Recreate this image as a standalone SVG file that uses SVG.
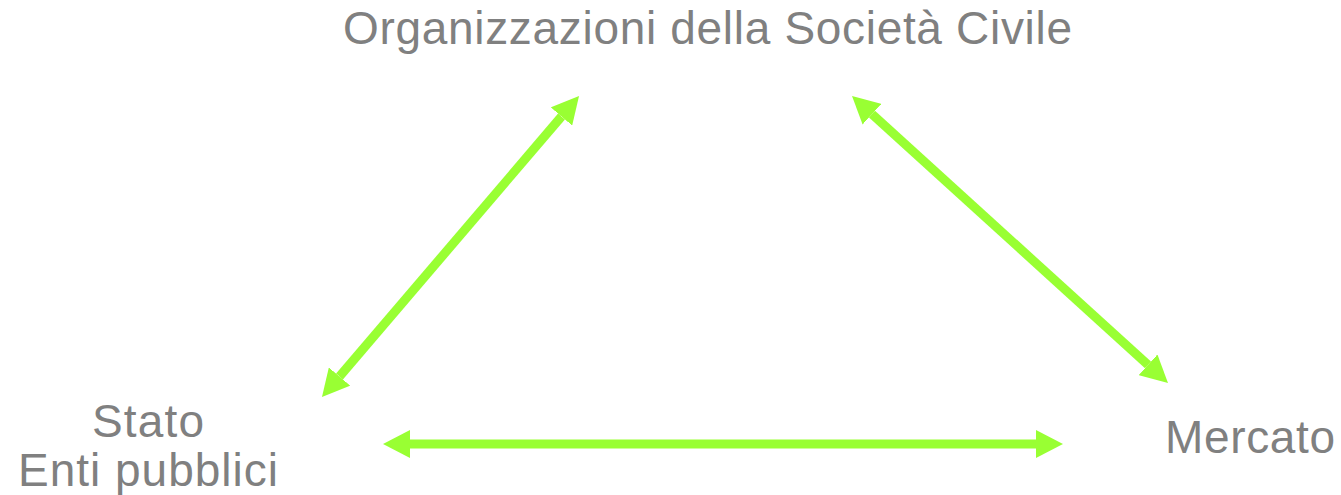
<svg xmlns="http://www.w3.org/2000/svg" width="1341" height="495" viewBox="0 0 1341 495">
<style>
.lbl{font-family:"Liberation Sans",Arial,sans-serif;font-size:46px;fill:#808080}
.conn{stroke:#99ff33;stroke-width:9;fill:none}
</style>
<defs>
<marker id="ah" markerUnits="userSpaceOnUse" viewBox="0 0 27 28" refX="0" refY="14" markerWidth="27" markerHeight="28" orient="auto-start-reverse">
<path d="M0,0 L27,14 L0,28 Z" fill="#99ff33"/>
</marker>
</defs>
<rect width="1341" height="495" fill="#ffffff"/>
<g id="connectors">
<line class="conn" x1="339.5" y1="376.5" x2="561.5" y2="116.5" marker-start="url(#ah)" marker-end="url(#ah)"/>
<line class="conn" x1="872" y1="114.2" x2="1148" y2="364.8" marker-start="url(#ah)" marker-end="url(#ah)"/>
<line class="conn" x1="410" y1="444" x2="1036" y2="444" marker-start="url(#ah)" marker-end="url(#ah)"/>
</g>
<g id="node-osc">
<text class="lbl" x="343" y="44" textLength="729" lengthAdjust="spacing">Organizzazioni della Società Civile</text>
</g>
<g id="node-stato">
<text class="lbl" x="92" y="437" textLength="112" lengthAdjust="spacing">Stato</text>
<text class="lbl" x="18" y="486" textLength="260" lengthAdjust="spacing">Enti pubblici</text>
</g>
<g id="node-mercato">
<text class="lbl" x="1165" y="453" textLength="170" lengthAdjust="spacing">Mercato</text>
</g>
</svg>
